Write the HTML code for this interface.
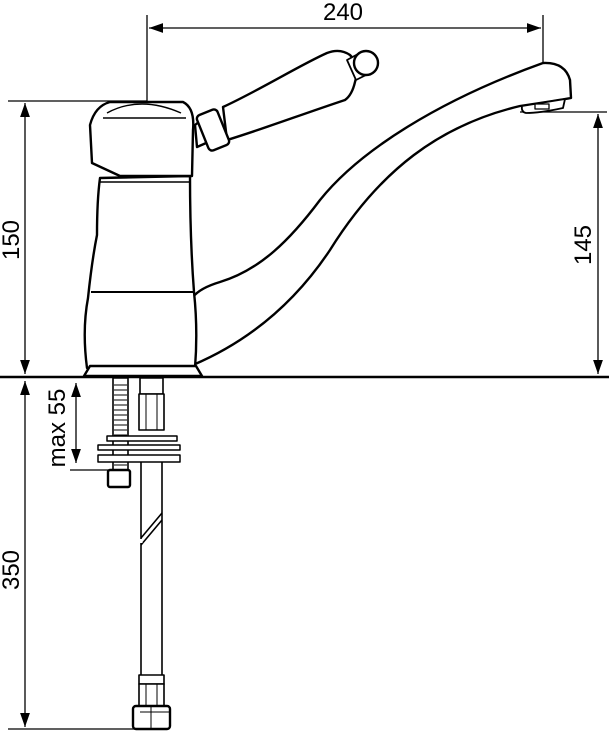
<!DOCTYPE html>
<html><head><style>
html,body{margin:0;padding:0;background:#fff;}
svg{display:block}
text{font-family:"Liberation Sans",sans-serif;font-size:24px;fill:#000}
</style></head><body>
<svg width="609" height="732" viewBox="0 0 609 732" xmlns="http://www.w3.org/2000/svg">
<defs>
<marker id="a" viewBox="0 0 10 10" refX="10" refY="5" markerWidth="14" markerHeight="14" markerUnits="userSpaceOnUse" orient="auto-start-reverse"><path d="M0,1.5 L10,5 L0,8.5 z" fill="#000"/></marker>
</defs>
<g stroke="#000" stroke-width="1.3" fill="none">
<line x1="147" y1="15" x2="147" y2="101"/>
<line x1="543" y1="15" x2="543" y2="108"/>
<line x1="149" y1="28" x2="541" y2="28" marker-start="url(#a)" marker-end="url(#a)"/>
<line x1="8" y1="101" x2="147" y2="101"/>
<line x1="25" y1="103" x2="25" y2="374" marker-start="url(#a)" marker-end="url(#a)"/>
<line x1="520" y1="112" x2="607" y2="112"/>
<line x1="598" y1="114" x2="598" y2="374" marker-start="url(#a)" marker-end="url(#a)"/>
<line x1="25" y1="381" x2="25" y2="727" marker-start="url(#a)" marker-end="url(#a)"/>
<line x1="8" y1="729" x2="135" y2="729"/>
<line x1="76" y1="383" x2="76" y2="463" marker-start="url(#a)" marker-end="url(#a)"/>
<line x1="70" y1="470" x2="110" y2="470"/>
</g>
<line x1="0" y1="377" x2="609" y2="377" stroke="#000" stroke-width="2.5"/>
<g stroke="#000" stroke-width="2.4" fill="#fff" stroke-linejoin="round">
<path d="M193,297 Q200,288 220,282 C260,270 290,240 320,200 C360,150 440,100 543,63 Q565,62 570,80 L571,98 Q560,100 520,106 C440,125 380,170 330,250 C290,310 240,345 193,365 Z"/>
<path d="M522,106 L565,99 L563,108 Q540,113 526,113 Q521,112 522,106 Z" stroke-width="1.8"/>
<rect x="535" y="104" width="14" height="5" stroke-width="1.3"/>
<path d="M195,125 L205,117 L213,140 L197,147 Z"/>
<path d="M223,107 C260,90 300,65 327,53 Q340,48 350,55 Q360,65 355,82 Q352,95 345,100 C300,115 260,130 227,140 Z"/>
<rect x="202" y="111" width="22" height="38" rx="4" transform="rotate(-22 213 130)"/>
<path d="M347,60 L358,54 L366,75 L356,80 Z" stroke-width="1.8"/>
<circle cx="366" cy="63" r="12"/>
<path d="M87,368 Q82,330 88,298 Q92,260 97,235 Q97,200 100,178 L190,176 Q190,240 194,292 Q198,330 195,368 Z"/>
<line x1="91" y1="292" x2="194" y2="292" stroke-width="2"/>
<path d="M90,125 Q95,106 110,102 L183,102 Q195,108 193,130 L192,176 L120,176 L92,163 Z"/>
<path d="M107,113 Q140,95 181,113" stroke-width="1.4"/>
<line x1="103" y1="118" x2="186" y2="118" stroke-width="1.6"/>
<line x1="100" y1="182" x2="190" y2="182" stroke-width="1.6"/>
<path d="M90,366 L196,366 L202,376 L84,376 Z"/>
<rect x="113" y="378" width="15" height="92" stroke-width="1.6"/>
<rect x="108" y="470" width="22" height="17" rx="2"/>
<rect x="140" y="378" width="23" height="16" stroke-width="1.6"/>
<rect x="139" y="394" width="25" height="36" stroke-width="1.6"/>
<line x1="141" y1="675" x2="141" y2="461" stroke-width="1.6"/>
<line x1="162" y1="675" x2="162" y2="461" stroke-width="1.6"/>
<rect x="107" y="436" width="70" height="5" stroke-width="1.5"/>
<rect x="98" y="445" width="82" height="5" stroke-width="1.5"/>
<rect x="98" y="455" width="82" height="7" stroke-width="1.5"/>
<path d="M141,545 L162,520 M141,538 L162,513" stroke-width="1.6"/>
<line x1="141" y1="539" x2="141" y2="543" stroke="#fff" stroke-width="3"/>
<rect x="139" y="675" width="25" height="9" stroke-width="1.6"/>
<rect x="139" y="684" width="25" height="22" stroke-width="1.6"/>
<rect x="133" y="706" width="37" height="23" rx="3"/>
</g>
<g stroke="#000" stroke-width="1" fill="none">
<path d="M114,385h13M114,390h13M114,395h13M114,400h13M114,405h13M114,410h13M114,415h13M114,420h13M114,425h13M114,430h13M114,435h13M114,465h13"/>
<path d="M146,394v36M157,394v36M146,684v22M157,684v22M140,712h29M151,706v23"/>
</g>
<text x="343" y="20" text-anchor="middle">240</text>
<text transform="translate(19,240) rotate(-90)" text-anchor="middle">150</text>
<text transform="translate(591,245) rotate(-90)" text-anchor="middle">145</text>
<text transform="translate(19,570) rotate(-90)" text-anchor="middle">350</text>
<text transform="translate(65,428) rotate(-90)" text-anchor="middle">max 55</text>
</svg>
</body></html>
